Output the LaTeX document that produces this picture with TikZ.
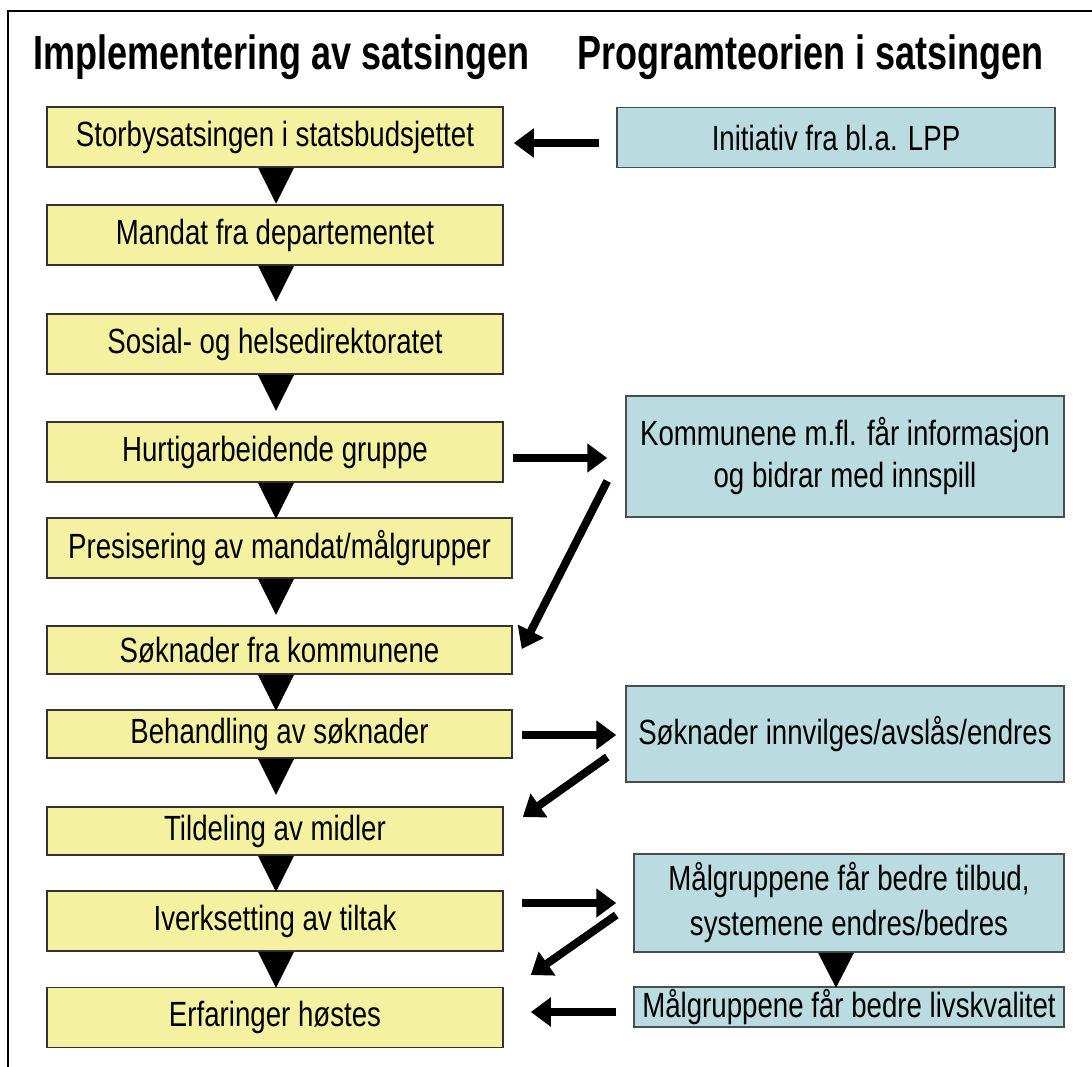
\documentclass[tikz,border=0pt]{standalone}
\usepackage{fontspec}
\setmainfont{Liberation Sans}[FakeStretch=0.79]
\newfontfamily\headfont{Liberation Sans}[FakeStretch=0.75]
\usetikzlibrary{arrows.meta,calc}
\definecolor{stagefill}{RGB}{244,241,160}
\definecolor{theoryfill}{RGB}{186,220,224}
\tikzset{
  stage/.style={draw=black!80,line width=0.75pt,fill=stagefill,minimum width=228pt,minimum height=30pt,inner sep=0pt,align=center},
  theory/.style={draw=black!70,line width=0.75pt,fill=theoryfill,minimum width=219pt,minimum height=30pt,inner sep=0pt,align=center},
  flow/.style={line width=4pt,-{Triangle[length=10pt,width=14pt]}},
  heading/.style={anchor=base west,inner sep=0pt,font=\headfont\fontsize{24}{28}\selectfont\bfseries},
}
\begin{document}
\begin{tikzpicture}[x=0.5pt,y=-0.5pt,every node/.style={font=\fontsize{17.5}{21}\selectfont}]
\useasboundingbox (0,0) rectangle (1092,1066);
\draw[line width=0.75pt] (8,1080) -- (8,11) -- (1100,11);
\node[heading] (h1) at (33,69) {Implementering av satsingen};
\node[heading] (h2) at (577,69) {Programteorien i satsingen};
% implementering
\node[stage] (b1) at (275,137) {Storbysatsingen i statsbudsjettet};
\node[stage] (b2) at (275,235) {Mandat fra departementet};
\node[stage] (b3) at (275,344) {Sosial- og helsedirektoratet};
\node[stage] (b4) at (275,452) {Hurtigarbeidende gruppe};
\node[stage,minimum width=232.5pt] (b5) at (279.5,548) {Presisering av mandat/målgrupper};
\node[stage,minimum width=232.5pt,minimum height=24pt] (b6) at (279.5,650) {Søknader fra kommunene};
\node[stage,minimum width=232.5pt,minimum height=24pt] (b7) at (279.5,734) {Behandling av søknader};
\node[stage,minimum height=24pt] (b8) at (275,831) {Tildeling av midler};
\node[stage] (b9) at (275,921) {Iverksetting av tiltak};
\node[stage] (b10) at (275,1017.5) {Erfaringer høstes};
\coordinate (axis) at (276,0);
\foreach \i in {1,...,9}
  \fill (axis |- b\i.south) ++(-18,0) -- ++(36,0) -- ++(-18,36) -- cycle;
% programteori
\node[theory] (p1) at (836,137.5) {Initiativ fra bl.a. LPP};
\node[theory,minimum height=60.5pt] (p2) at (845,456.5) {Kommunene m.fl. får informasjon\\og bidrar med innspill};
\node[theory,minimum height=48pt] (p3) at (845,734) {Søknader innvilges/avslås/endres};
\node[theory,minimum width=215pt,minimum height=49pt,font=\fontsize{17.5}{22.5}\selectfont] (p4) at (849,903) {Målgruppene får bedre tilbud,\\systemene endres/bedres};
\node[theory,minimum width=215pt,minimum height=20pt] (p5) at (849,1007) {Målgruppene får bedre livskvalitet};
\fill ($(p4.south)+(-13,0)$) ++(-18,0) -- ++(36,0) -- ++(-18,35) -- cycle;
% arrows between the columns
\draw[flow] ($(p1.west)+(-17,5.5)$) -- ($(b1.east)+(10,6)$);
\draw[flow] ($(b4.east)+(9,6)$) -- ($(p2.west)+(-18,1.5)$);
\draw[flow] ($(p2.west)+(-18,24.5)$) -- ($(b6.east)+(9,-1)$);
\draw[flow] ($(b7.east)+(9,1)$) -- ($(p3.west)+(-9,1)$);
\draw[flow] ($(p3.west)+(-18,23)$) -- ($(b8.east)+(19,-14)$);
\draw[flow] ($(b9.east)+(18,-18)$) -- ($(p4.west)+(-17,0)$);
\draw[flow] ($(p4.west)+(-17,12)$) -- ($(b10.east)+(27,-42.5)$);
\draw[flow] ($(p5.west)+(-17,5)$) -- ($(b10.east)+(27,-5.5)$);
\end{tikzpicture}
\end{document}
